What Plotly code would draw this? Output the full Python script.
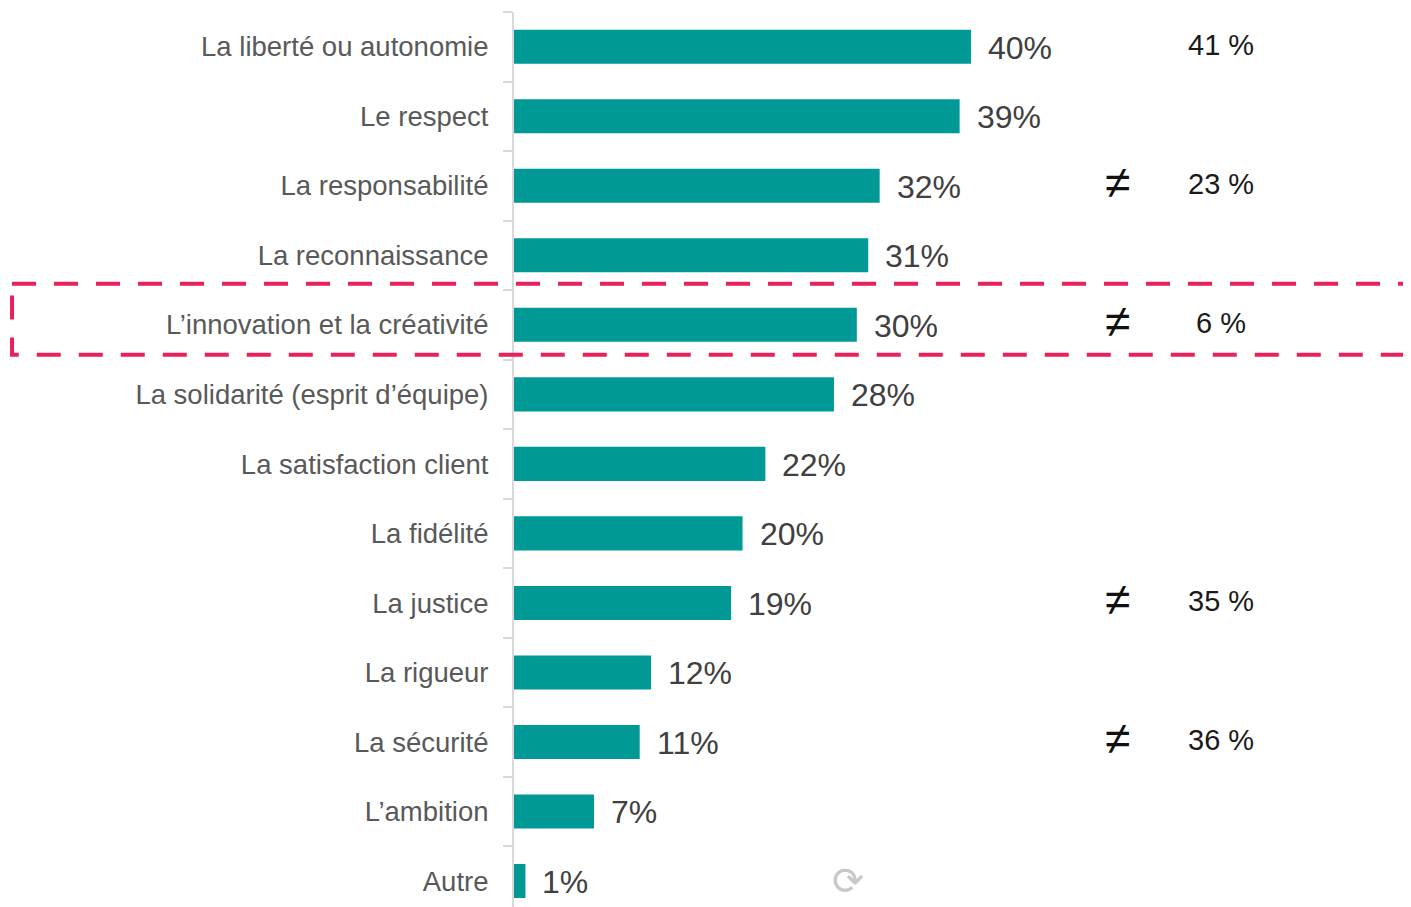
import plotly.graph_objects as go

# categories (top to bottom) and shares in %
categories = [
    "La liberté ou autonomie",
    "Le respect",
    "La responsabilité",
    "La reconnaissance",
    "L’innovation et la créativité",
    "La solidarité (esprit d’équipe)",
    "La satisfaction client",
    "La fidélité",
    "La justice",
    "La rigueur",
    "La sécurité",
    "L’ambition",
    "Autre",
]
values = [40, 39, 32, 31, 30, 28, 22, 20, 19, 12, 11, 7, 1]

# comparison column on the right (None = empty)
compare_values = [41, None, 23, None, 6, None, None, None, 35, None, 36, None, None]
differs = [False, False, True, False, True, False, False, False, True, False, True, False, False]

highlight = "L’innovation et la créativité"

TEAL = "#009995"
PINK = "#E8215A"

fig = go.Figure()
fig.add_trace(
    go.Bar(
        x=values,
        y=categories,
        orientation="h",
        marker=dict(color=TEAL, line=dict(width=0)),
        width=0.49,
        hoverinfo="skip",
    )
)

annotations = []
for cat, v in zip(categories, values):
    annotations.append(dict(
        x=v, y=cat, xref="x", yref="y", text=f"{v}%", showarrow=False,
        xanchor="left", xshift=15, yshift=-1,
        font=dict(family="Liberation Sans, Arial", size=32, color="#404040"),
    ))

for cat, cv, d in zip(categories, compare_values, differs):
    if cv is not None:
        annotations.append(dict(
            x=61.9, y=cat, xref="x", yref="y", text=f"{cv} %", showarrow=False,
            xanchor="center", yshift=2,
            font=dict(family="Liberation Sans, Arial", size=29, color="#1a1a1a"),
        ))
    if d:
        annotations.append(dict(
            x=52.8, y=cat, xref="x", yref="y", text="≠", showarrow=False,
            xanchor="center", yshift=4,
            font=dict(family="Liberation Sans, Arial", size=46, color="#111111"),
        ))

# little refresh icon near the bottom
annotations.append(dict(
    x=29.2, y="Autre", xref="x", yref="y", text="⟳", showarrow=False,
    font=dict(family="DejaVu Sans", size=38, color="#c8c8c8"),
))

idx = categories.index(highlight)
fig.add_shape(
    type="rect", xref="paper", yref="y",
    x0=-0.5596, x1=1.02, y0=idx - 0.59, y1=idx + 0.43,
    line=dict(color=PINK, width=4, dash="24px,18px"),
    layer="above",
)

# page body has an 8px margin, so the figure is 8px smaller each way
fig.update_layout(
    width=1403,
    height=899,
    margin=dict(l=506, r=0, t=4, b=0),
    plot_bgcolor="white",
    paper_bgcolor="white",
    showlegend=False,
    annotations=annotations,
    xaxis=dict(range=[0, 78.5], visible=False, showgrid=False, zeroline=False),
    yaxis=dict(
        type="category",
        range=[12.374, -0.5],
        showgrid=False,
        zeroline=False,
        showline=True,
        linecolor="#D9D9D9",
        linewidth=2,
        ticks="outside",
        tickson="boundaries",
        ticklen=9,
        tickcolor="#D9D9D9",
        tickwidth=2,
        ticklabelstandoff=18,
        tickfont=dict(family="Liberation Sans, Arial", size=27.5, color="#595959"),
    ),
)

fig.write_html("out.html")
